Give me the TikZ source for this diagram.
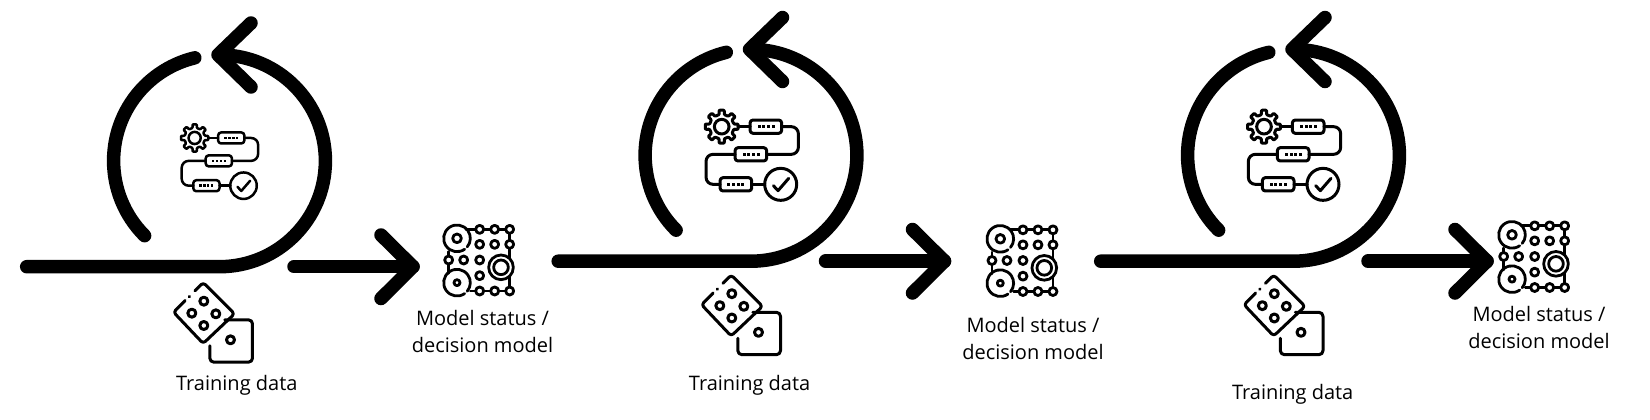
\documentclass[tikz,border=0pt]{standalone}
\usepackage{fontspec}
\setmainfont{Open Sans}
\usetikzlibrary{calc}
\tikzset{
  bold stroke/.style={line width=13.5pt,line cap=round,line join=round,draw=black},
  thin stroke/.style={line cap=round,line join=round,draw=black},
  label text/.style={font=\fontsize{20}{27}\selectfont,align=center,inner sep=0pt,text=black}
}
% loop: #1 suffix, #2 dx, #3 dy
\newcommand{\loopart}[3]{
  \begin{scope}[shift={(#2,#3)}]
    \coordinate (c#1) at (219.5,160.8);
    \coordinate (in#1) at (26.7,266.7);
    \coordinate (tip#1) at (218,54.8);
    \coordinate (ha#1) at (251,23);
    \coordinate (hb#1) at (251,87);
    \coordinate (os#1) at (294,266.7);
    \coordinate (ot#1) at (413,266.7);
    \coordinate (oa#1) at (381,235);
    \coordinate (ob#1) at (381,298.5);
    \draw[bold stroke] (in#1) -- (219.5,266.7) arc[start angle=90,end angle=-90,radius=105.9];
    \draw[bold stroke] ($(c#1)+(135:105.9)$) arc[start angle=135,end angle=256.5,radius=105.9];
    \draw[bold stroke] (ha#1) -- (tip#1) -- (hb#1);
    \draw[bold stroke] (os#1) -- (ot#1);
    \draw[bold stroke] (oa#1) -- (ot#1) -- (ob#1);
  \end{scope}
}
% process icon: #1 cx, #2 cy, #3 unit (pt per zoom px), #4 line width
\newcommand{\procicon}[4]{
  \begin{scope}[shift={(#1,#2)},x=#3pt,y=-#3pt,shift={(-185,-178.5)},thin stroke,line width=#4pt]
    \begin{scope}[shift={(95,95)}]
      \draw[rounded corners=0.8pt] (-12:37) \foreach \a in {0,45,...,315} { -- (\a-12:37) -- (\a-9:50) -- (\a+9:50) -- (\a+12:37) } -- cycle;
      \draw (0,0) circle[radius=22];
    \end{scope}
    \draw (144,95) -- (180,95);
    \draw[rounded corners=3pt] (180,75) rectangle (275,115);
    \draw[rounded corners=7pt] (275,95) -- (325,95) -- (325,178) -- (230,178);
    \draw[rounded corners=3pt] (135,158) rectangle (230,198);
    \draw[rounded corners=7pt] (135,178) -- (48,178) -- (48,268) -- (90,268);
    \draw[rounded corners=3pt] (90,248) rectangle (185,288);
    \draw (185,268) -- (224,268);
    \draw (272,268) circle[radius=48];
    \draw (250,272) -- (264,287) -- (296,250);
    \foreach \y/\xs in {95/228,178/183,268/137}{
      \foreach \d in {-21,-7,7,21}{
        \fill (\xs+\d-4.5,\y-4.5) rectangle (\xs+\d+4.5,\y+4.5);
      }
    }
  \end{scope}
}
% model icon
\newcommand{\modelicon}[3]{
  \begin{scope}[shift={(#1,#2)},x=0.3333pt,y=-0.3333pt,shift={(-146,-150)},thin stroke,line width=#3pt]
    \draw (107,58) -- (238,58) -- (238,243) -- (120,243);
    \draw (55,125) -- (55,190);
    \draw (80,85) ++(55:40) arc[start angle=55,end angle=400,radius=40];
    \draw (80,85) circle[radius=13];
    \draw (80,218) ++(55:40) arc[start angle=55,end angle=400,radius=40];
    \draw (80,218) circle[radius=9];
    \draw[fill=white] (212,172) circle[radius=37];
    \draw[fill=white] (212,172) circle[radius=22];
    \foreach \p in {(148,58),(193,58),(238,58),(148,103),(193,103),(238,103),(55,150),(100,150),(148,150),(148,197),(148,243),(193,243),(238,243)}{
      \draw[fill=white] \p circle[radius=12];
    }
  \end{scope}
}
% dice icon
\newcommand{\diceicon}[3]{
  \begin{scope}[shift={(#1,#2)},x=0.3333pt,y=-0.3333pt,shift={(-162.5,-157.5)},thin stroke,line width=#3pt]
    \draw[rounded corners=3pt] (105,61) -- (130,36) -- (224,130) -- (130,219) -- (41,125) -- (76,90);
    \draw (88,79) -- (89,78);
    \draw[rounded corners=4pt] (195,148) -- (278,148) -- (278,275) -- (150,275) -- (150,226);
    \foreach \p in {(132,92),(96,128),(168,130),(132,165)}{
      \draw \p circle[radius=12];
    }
    \draw (212,208) circle[radius=12];
  \end{scope}
}
\begin{document}
\begin{tikzpicture}[x=1pt,y=-1pt]
  \useasboundingbox[fill=white] (0,0) rectangle (1650,420);
  \loopart{A}{0}{0}
  \loopart{B}{531.5}{-5.5}
  \loopart{C}{1074}{-5.5}
  \procicon{219.5}{161}{0.2760}{2.5}
  \procicon{751.7}{154.5}{0.3333}{3}
  \procicon{1294}{154.5}{0.3333}{3}
  \modelicon{479}{260}{2.8}
  \modelicon{1022.3}{260.5}{2.8}
  \modelicon{1534}{256.5}{2.8}
  \diceicon{214}{323}{3}
  \diceicon{742}{315.5}{3}
  \diceicon{1284.5}{315.5}{3}
  \node[label text] (t1) at (236.8,385.5) {Training data};
  \node[label text] (t2) at (749.6,385.5) {Training data};
  \node[label text] (t3) at (1292.7,394.5) {Training data};
  \node[label text] (m1) at (482.5,331) {Model status /\\decision model};
  \node[label text] (m2) at (1033,338) {Model status /\\decision model};
  \node[label text] (m3) at (1539,327) {Model status /\\decision model};
\end{tikzpicture}
\end{document}
